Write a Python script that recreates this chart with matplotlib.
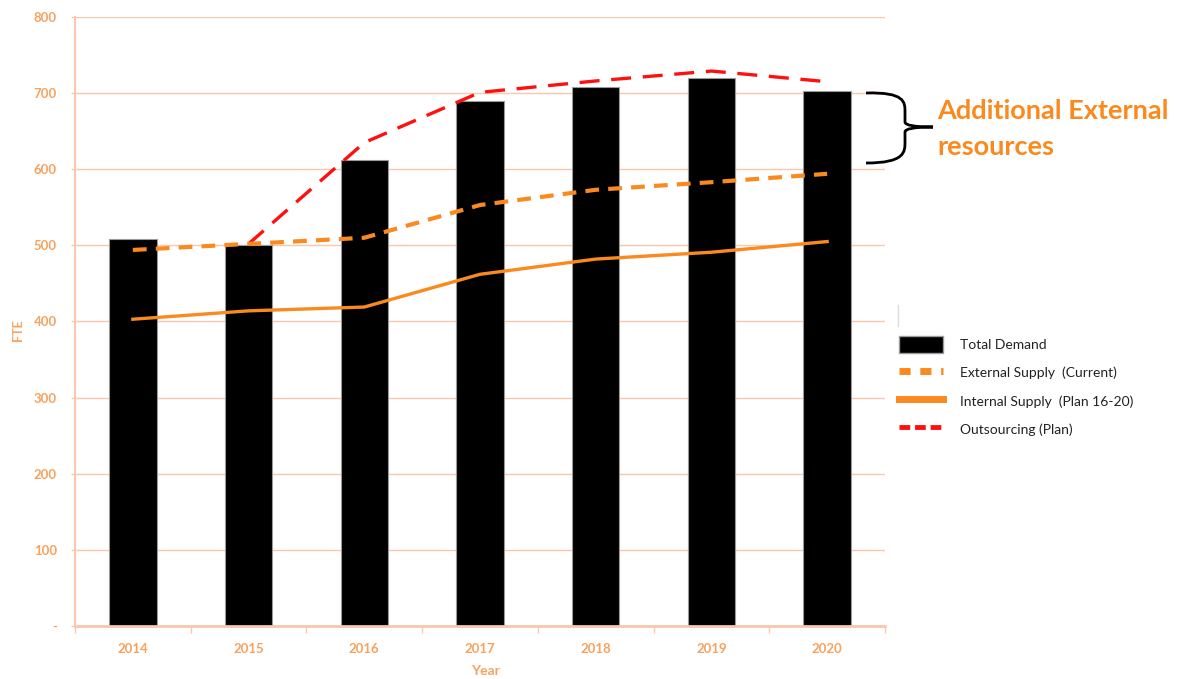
import matplotlib
matplotlib.use("Agg")
import matplotlib.pyplot as plt
from matplotlib.patches import Patch, PathPatch
from matplotlib.lines import Line2D
from matplotlib.path import Path

plt.rcParams['font.family'] = ['Lato', 'DejaVu Sans']

years = ["2014", "2015", "2016", "2017", "2018", "2019", "2020"]
total_demand = [508, 500, 612, 690, 708, 720, 703]
external_supply = [494, 502, 510, 553, 573, 583, 594]
internal_supply = [403, 414, 419, 462, 482, 491, 505]
outsourcing_years = ["2015", "2016", "2017", "2018", "2019", "2020"]
outsourcing = [502, 635, 701, 716, 729, 715]
y_ticks = [0, 100, 200, 300, 400, 500, 600, 700, 800]
y_tick_labels = ["-", "100", "200", "300", "400", "500", "600", "700", "800"]

ORANGE = "#FA8A1E"
RED = "#FF1010"
GRID = "#F9C6AE"
TICK = "#F7A25E"

W, H = 1182, 679
fig = plt.figure(figsize=(W / 100, H / 100), dpi=100)
ax = fig.add_axes([75 / W, (H - 626) / H, (885 - 75) / W, (626 - 17) / H])

x = list(range(len(years)))
xo = [years.index(y) for y in outsourcing_years]

ax.bar(x, total_demand, width=0.41, color="black", edgecolor="#9a9a9a",
       linewidth=0.8, zorder=2)
ax.plot(xo, outsourcing, color=RED, lw=2.4, dashes=(6, 3.5), zorder=3)
ax.plot(x, external_supply, color=ORANGE, lw=3.0, dashes=(3.3, 2.2), zorder=4)
ax.plot(x, internal_supply, color=ORANGE, lw=2.4, zorder=4)

ax.set_xlim(-0.5, len(years) - 0.5)
ax.set_ylim(0, 800)
ax.set_yticks(y_ticks)
ax.set_yticklabels(y_tick_labels)
ax.set_xticks(x)
ax.set_xticklabels(years)
ax.set_xticks([i - 0.5 for i in range(len(years) + 1)], minor=True)

ax.grid(axis="y", color=GRID, lw=1.0, zorder=0)
for s in ["top", "right"]:
    ax.spines[s].set_visible(False)
ax.spines["left"].set_color(GRID)
ax.spines["bottom"].set_color(GRID)
ax.spines["left"].set_linewidth(1.5)
ax.spines["bottom"].set_linewidth(2)
ax.tick_params(axis="y", colors=GRID, labelcolor=TICK, labelsize=9.5,
               length=3, width=1, pad=10)
ax.tick_params(axis="x", which="major", length=0, labelcolor=TICK,
               labelsize=9.5, pad=12)
ax.tick_params(axis="x", which="minor", colors=GRID, length=5, width=1)
for lbl in ax.get_xticklabels() + ax.get_yticklabels():
    lbl.set_fontweight("bold")

fig.text(18 / W, 1 - 330 / H, "FTE", color=TICK, fontsize=9,
         fontweight="bold", rotation=90, ha="center", va="center")
fig.text(485 / W, 1 - 671 / H, "Year", color=TICK, fontsize=10,
         fontweight="bold", ha="center", va="center")

handles = [
    Patch(facecolor="black", edgecolor="#9a9a9a"),
    Line2D([], [], color=ORANGE, lw=5, dashes=(1.6, 1.4)),
    Line2D([], [], color=ORANGE, lw=5),
    Line2D([], [], color=RED, lw=3.5, dashes=(2.2, 1.0)),
]
labels = ["Total Demand", "External Supply  (Current)",
          "Internal Supply  (Plan 16-20)", "Outsourcing (Plan)"]
leg = fig.legend(handles, labels, loc="upper left",
                 bbox_to_anchor=(893 / W, 1 - 330 / H), frameon=False,
                 fontsize=10, handlelength=3.2, handleheight=1.6,
                 labelspacing=0.75, handletextpad=1.2, borderaxespad=0)
for t in leg.get_texts():
    t.set_color("#222222")

# overlay in pixel coordinates for the brace and its note
ov = fig.add_axes([0, 0, 1, 1], facecolor="none")
ov.set_xlim(0, W)
ov.set_ylim(H, 0)
ov.axis("off")

ov.plot([898, 898], [305, 326], color="#dddddd", lw=1)

verts = [(866, 93), (905, 92), (905, 102), (905, 112),
         (905, 122), (905, 127), (933, 127),
         (905, 127), (905, 132), (905, 142),
         (905, 152), (905, 163), (866, 163)]
codes = [Path.MOVETO, Path.CURVE4, Path.CURVE4, Path.CURVE4,
         Path.LINETO, Path.CURVE3, Path.CURVE3,
         Path.CURVE3, Path.CURVE3, Path.LINETO,
         Path.CURVE4, Path.CURVE4, Path.CURVE4]
ov.add_patch(PathPatch(Path(verts, codes), facecolor="none",
                       edgecolor="black", lw=2))

ov.text(937, 111, "Additional External", color=ORANGE, fontsize=19.5,
        fontweight="bold", va="center", ha="left")
ov.text(937, 147, "resources", color=ORANGE, fontsize=19.5,
        fontweight="bold", va="center", ha="left")

fig.savefig("out.png", dpi=100)
